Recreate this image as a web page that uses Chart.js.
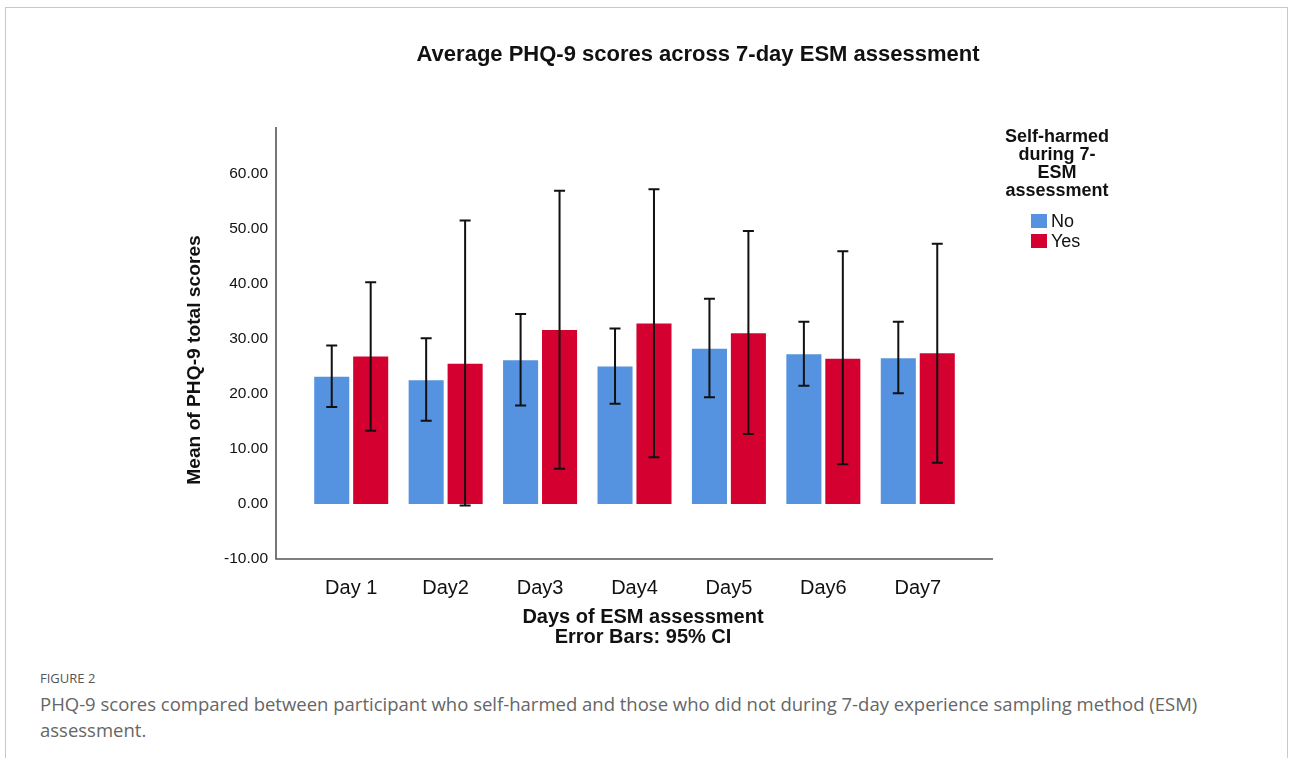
<!DOCTYPE html>
<html>
<head>
<meta charset="utf-8">
<script src="https://cdn.jsdelivr.net/npm/chart.js@4.4.1/dist/chart.umd.min.js"></script>
<style>
  html, body { margin: 0; padding: 0; background: #fff; }
  body { width: 1293px; height: 758px; position: relative; overflow: hidden; }
  .frame { position: absolute; left: 5px; top: 7px; width: 1281px; height: 800px; border: 1px solid #c9c9c9; }
  #wrap { position: absolute; left: 0; top: 0; width: 1293px; height: 660px; }
  .fig-label { position: absolute; left: 40px; top: 669px; font: 13px 'Open Sans', sans-serif; color: #555; }
  .fig-caption { position: absolute; left: 40px; top: 691px; width: 1220px; font: 18.5px/26px 'Open Sans', sans-serif; color: #666; }
</style>
</head>
<body>
<div class="frame"></div>
<div id="wrap"><canvas id="chart"></canvas></div>
<div class="fig-label">FIGURE 2</div>
<div class="fig-caption">PHQ-9 scores compared between participant who self-harmed and those who did not during 7-day experience sampling method (ESM) assessment.</div>
<script>
// values
const days = ['Day 1', 'Day2', 'Day3', 'Day4', 'Day5', 'Day6', 'Day7'];
const noMeans = [23.1, 22.5, 26.1, 25.0, 28.2, 27.2, 26.5];
const noLower = [17.6, 15.1, 17.9, 18.2, 19.4, 21.5, 20.1];
const noUpper = [28.8, 30.1, 34.5, 31.9, 37.3, 33.1, 33.1];
const yesMeans = [26.8, 25.5, 31.6, 32.8, 31.0, 26.4, 27.4];
const yesLower = [13.3, -0.3, 6.4, 8.5, 12.7, 7.2, 7.5];
const yesUpper = [40.3, 51.5, 56.9, 57.2, 49.6, 45.9, 47.3];
const yMin = -10, yMax = 68.5, yStep = 10;

const chartTitle = 'Average PHQ-9 scores across 7-day ESM assessment';
const yTitle = 'Mean of PHQ-9 total scores';
const xTitle = ['Days of ESM assessment', 'Error Bars: 95% CI'];
const legendTitle = ['Self-harmed', 'during 7-', 'ESM', 'assessment'];
const FONT = "'Liberation Sans', Arial, sans-serif";

const errorBars = {
  id: 'errorBars',
  afterDatasetsDraw(chart) {
    const { ctx, scales: { y } } = chart;
    ctx.save();
    ctx.strokeStyle = '#111';
    ctx.lineWidth = 2;
    chart.data.datasets.forEach((ds, i) => {
      chart.getDatasetMeta(i).data.forEach((bar, j) => {
        const top = y.getPixelForValue(ds.errHigh[j]);
        const bot = y.getPixelForValue(ds.errLow[j]);
        ctx.beginPath();
        ctx.moveTo(bar.x, top); ctx.lineTo(bar.x, bot);
        ctx.moveTo(bar.x - 5.5, top); ctx.lineTo(bar.x + 5.5, top);
        ctx.moveTo(bar.x - 5.5, bot); ctx.lineTo(bar.x + 5.5, bot);
        ctx.stroke();
      });
    });
    ctx.restore();
  },
};

const frameAndLegend = {
  id: 'frameAndLegend',
  beforeDatasetsDraw(chart) {
    const { ctx, chartArea: a } = chart;
    // SPSS axis frame sits a bit outside the category band
    ctx.save();
    ctx.strokeStyle = '#555';
    ctx.lineWidth = 1.6;
    ctx.beginPath();
    ctx.moveTo(a.left - 28, a.top);
    ctx.lineTo(a.left - 28, a.bottom);
    ctx.lineTo(a.right + 28, a.bottom);
    ctx.stroke();
    ctx.restore();
  },
  afterDraw(chart) {
    const { ctx, chartArea: a } = chart;
    ctx.save();
    ctx.fillStyle = '#111';
    ctx.textAlign = 'center';
    ctx.textBaseline = 'middle';
    ctx.font = `bold 22px ${FONT}`;
    ctx.fillText(chartTitle, 698, 55);

    // axis titles (SPSS places them slightly off the plot centre)
    ctx.font = `bold 20px ${FONT}`;
    xTitle.forEach((t, i) => ctx.fillText(t, 643, 617 + i * 20));
    ctx.save();
    ctx.translate(195, 360);
    ctx.rotate(-Math.PI / 2);
    ctx.font = `bold 19.2px ${FONT}`;
    ctx.fillText(yTitle, 0, 0);
    ctx.restore();

    const lx = a.right + 92;
    ctx.font = `bold 18px ${FONT}`;
    legendTitle.forEach((t, i) => ctx.fillText(t, lx, 137 + i * 18));
    ctx.textAlign = 'left';
    ctx.font = `18px ${FONT}`;
    chart.data.datasets.forEach((ds, i) => {
      const yy = 221 + i * 20;
      ctx.fillStyle = ds.backgroundColor;
      ctx.fillRect(a.right + 66, yy - 7, 16, 14);
      ctx.fillStyle = '#111';
      ctx.fillText(ds.label, a.right + 86, yy + 1);
    });
    ctx.restore();
  },
};

new Chart(document.getElementById('chart'), {
  type: 'bar',
  data: {
    labels: days,
    datasets: [
      { label: 'No', data: noMeans, errLow: noLower, errHigh: noUpper, backgroundColor: '#5592df' },
      { label: 'Yes', data: yesMeans, errLow: yesLower, errHigh: yesUpper, backgroundColor: '#d4002f' },
    ],
  },
  plugins: [frameAndLegend, errorBars],
  options: {
    responsive: true,
    maintainAspectRatio: false,
    animation: false,
    layout: { padding: { left: 183, right: 328, top: 127, bottom: 0 } },
    datasets: { bar: { categoryPercentage: 0.825, barPercentage: 0.9, borderWidth: 0 } },
    plugins: { legend: { display: false }, tooltip: { enabled: false } },
    scales: {
      x: {
        grid: { display: false },
        border: { display: false },
        ticks: { color: '#111', font: { family: FONT, size: 20 }, padding: 9 },
        afterFit(scale) { scale.height = 101; },
      },
      y: {
        min: yMin,
        max: yMax,
        grid: { display: false },
        border: { display: false },
        ticks: {
          stepSize: yStep,
          includeBounds: false,
          padding: 28,
          color: '#111',
          font: { family: FONT, size: 15.5 },
          callback: (v) => v.toFixed(2),
        },
        afterFit(scale) { scale.width = 121; },
      },
    },
  },
});
</script>
</body>
</html>
